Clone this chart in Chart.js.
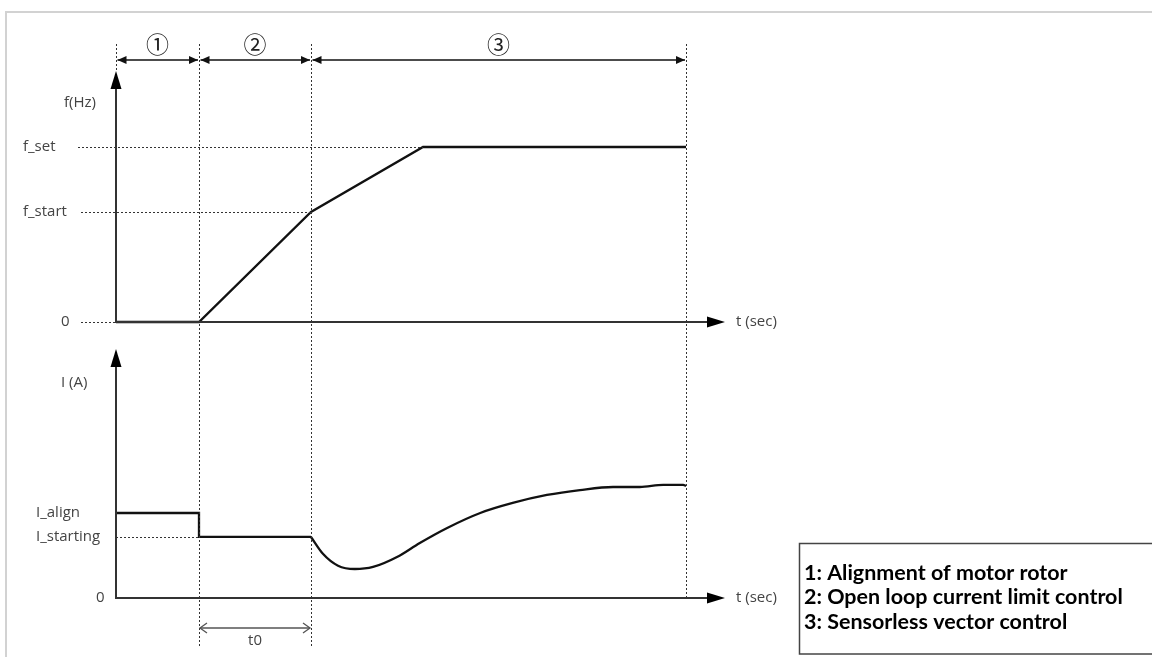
<!DOCTYPE html>
<html>
<head>
<meta charset="utf-8">
<script src="https://cdn.jsdelivr.net/npm/chart.js@4/dist/chart.umd.min.js"></script>
<style>
  html, body { margin: 0; padding: 0; background: #fff; }
  #wrap { width: 1152px; height: 657px; position: relative; }
</style>
</head>
<body>
<div id="wrap"><canvas id="c"></canvas></div>
<script>
// ---- data (diagram units: t relative, f normalised to f_set, I normalised to I_align) ----
const phaseBounds = [0, 1.456, 3.421, 10];
const phaseLabels = ['\u2460', '\u2461', '\u2462'];
const fSet = 1.0;
const fStart = 0.629;
const freqT = [0, 1.456, 3.421, 5.386, 10];
const freqV = [0, 0, fStart, fSet, fSet];
const iAlign = 1.0;
const iStarting = 0.718;
const currStepT = [0, 1.456, 1.456, 3.421];
const currStepV = [iAlign, iAlign, iStarting, iStarting];
const currCurveT = [3.421, 3.63, 3.895, 4.19, 4.51, 4.93, 5.33, 5.81, 6.39, 6.96, 7.56, 8.14, 8.72, 9.19, 9.6, 9.95, 10];
const currCurveV = [0.718, 0.52, 0.38, 0.341, 0.365, 0.482, 0.647, 0.824, 1.0, 1.118, 1.212, 1.27, 1.306, 1.306, 1.33, 1.33, 1.318];
const fTickLabels = ['f_set', 'f_start', '0'];
const iTickLabels = ['I_align', 'I_starting', '0'];
const axisTitles = ['f(Hz)', 'I (A)', 't (sec)'];
const t0Label = 't0';
const legendLines = ['1: Alignment of motor rotor', '2: Open loop current limit control', '3: Sensorless vector control'];

const pts = (xs, ys) => xs.map((x, i) => ({ x: x, y: ys[i] }));

const diagramPlugin = {
  id: 'diagram',
  afterDatasetsDraw(chart) {
    const ctx = chart.ctx;
    const X = v => chart.scales.x.getPixelForValue(v);
    const YF = v => chart.scales.yF.getPixelForValue(v);
    const YI = v => chart.scales.yI.getPixelForValue(v);
    const x0 = X(0), xEnd = X(phaseBounds[3]);
    const yF0 = YF(0), yI0 = YI(0);
    ctx.save();

    // outer frame
    ctx.strokeStyle = '#d2d2d2'; ctx.lineWidth = 2;
    ctx.beginPath(); ctx.moveTo(6, 657); ctx.lineTo(6, 12); ctx.lineTo(1152, 12); ctx.stroke();

    // dotted guides
    ctx.strokeStyle = '#333'; ctx.lineWidth = 1; ctx.setLineDash([2, 2]);
    const vline = (x, y1, y2) => { ctx.beginPath(); ctx.moveTo(Math.round(x) + 0.5, y1); ctx.lineTo(Math.round(x) + 0.5, y2); ctx.stroke(); };
    const hline = (y, x1, x2) => { ctx.beginPath(); ctx.moveTo(x1, Math.round(y) + 0.5); ctx.lineTo(x2, Math.round(y) + 0.5); ctx.stroke(); };
    vline(x0, 44, 70);
    vline(X(phaseBounds[1]), 44, 648);
    vline(X(phaseBounds[2]), 44, 648);
    vline(xEnd, 44, yI0);
    hline(YF(fSet), 78, X(freqT[3]));
    hline(YF(fStart), 81, X(phaseBounds[2]));
    hline(yF0, 81, x0);
    hline(YI(iStarting), x0, X(phaseBounds[1]));
    ctx.setLineDash([]);

    // axes
    ctx.strokeStyle = '#333'; ctx.fillStyle = '#000'; ctx.lineWidth = 2;
    const upArrow = (x, yBase, yTip) => {
      ctx.beginPath(); ctx.moveTo(x, yBase); ctx.lineTo(x, yTip + 14); ctx.stroke();
      ctx.beginPath(); ctx.moveTo(x, yTip); ctx.lineTo(x - 5.5, yTip + 18); ctx.lineTo(x + 5.5, yTip + 18); ctx.closePath(); ctx.fill();
    };
    const rightArrow = (y, xBase, xTip) => {
      ctx.beginPath(); ctx.moveTo(xBase, y); ctx.lineTo(xTip - 14, y); ctx.stroke();
      ctx.beginPath(); ctx.moveTo(xTip, y); ctx.lineTo(xTip - 18, y - 5.5); ctx.lineTo(xTip - 18, y + 5.5); ctx.closePath(); ctx.fill();
    };
    upArrow(x0, yF0 + 1, 71);
    upArrow(x0, yI0 + 1, 349);
    rightArrow(yF0, x0 - 1, 725);
    rightArrow(yI0, x0 - 1, 725);

    // phase dimension arrows
    ctx.strokeStyle = '#111'; ctx.fillStyle = '#111'; ctx.lineWidth = 1.5;
    const yP = 60;
    const head = (x, dir) => {
      ctx.beginPath(); ctx.moveTo(x, yP); ctx.lineTo(x - dir * 9, yP - 4); ctx.lineTo(x - dir * 9, yP + 4); ctx.closePath(); ctx.fill();
    };
    for (let i = 0; i < 3; i++) {
      const a = X(phaseBounds[i]) + 1.5, b = X(phaseBounds[i + 1]) - 1;
      ctx.beginPath(); ctx.moveTo(a, yP); ctx.lineTo(b, yP); ctx.stroke();
      head(a, -1); head(b, 1);
    }
    ctx.fillStyle = '#222'; ctx.font = '23px "Noto Sans CJK JP"'; ctx.textAlign = 'center'; ctx.textBaseline = 'middle';
    for (let i = 0; i < 3; i++) {
      ctx.fillText(phaseLabels[i], (X(phaseBounds[i]) + X(phaseBounds[i + 1])) / 2, 44);
    }

    // t0 dimension
    const ta = X(phaseBounds[1]) + 1, tb = X(phaseBounds[2]) - 1, yt = 628;
    ctx.strokeStyle = '#555'; ctx.lineWidth = 1.3;
    ctx.beginPath(); ctx.moveTo(ta, yt); ctx.lineTo(tb, yt); ctx.stroke();
    ctx.beginPath(); ctx.moveTo(ta + 7, yt - 5); ctx.lineTo(ta, yt); ctx.lineTo(ta + 7, yt + 5); ctx.stroke();
    ctx.beginPath(); ctx.moveTo(tb - 7, yt - 5); ctx.lineTo(tb, yt); ctx.lineTo(tb - 7, yt + 5); ctx.stroke();

    // labels
    ctx.fillStyle = '#444'; ctx.font = '15px "Open Sans"'; ctx.textBaseline = 'middle';
    ctx.textAlign = 'left';
    ctx.fillText(axisTitles[0], 64, 103);
    ctx.fillText(fTickLabels[0], 23, YF(fSet));
    ctx.fillText(fTickLabels[1], 23, YF(fStart));
    ctx.fillText(fTickLabels[2], 61, yF0);
    ctx.fillText(axisTitles[1], 61, 383);
    ctx.fillText(iTickLabels[0], 36, YI(iAlign));
    ctx.fillText(iTickLabels[1], 36, YI(iStarting));
    ctx.fillText(iTickLabels[2], 96, yI0);
    ctx.fillText(axisTitles[2], 736, yF0);
    ctx.fillText(axisTitles[2], 736, yI0);
    ctx.textAlign = 'center';
    ctx.fillText(t0Label, (ta + tb) / 2, 641);

    // legend box
    ctx.strokeStyle = '#444'; ctx.lineWidth = 1.5;
    ctx.strokeRect(799.5, 543.5, 400, 110.5);
    ctx.fillStyle = '#000'; ctx.textAlign = 'left'; ctx.textBaseline = 'middle';
    let fs = 18;
    ctx.font = 'bold ' + fs + 'px Lato';
    const w = ctx.measureText(legendLines[1]).width;
    fs = fs * 319 / w;
    ctx.font = 'bold ' + fs.toFixed(2) + 'px Lato';
    legendLines.forEach((s, i) => ctx.fillText(s, 804, 573 + i * 24.5));

    ctx.restore();
  }
};

new Chart(document.getElementById('c'), {
  type: 'line',
  data: {
    datasets: [
      { label: 'f', data: pts(freqT, freqV), yAxisID: 'yF', borderColor: '#111', borderWidth: 2.3, pointRadius: 0, tension: 0 },
      { label: 'I step', data: pts(currStepT, currStepV), yAxisID: 'yI', borderColor: '#111', borderWidth: 2.3, pointRadius: 0, tension: 0 },
      { label: 'I', data: pts(currCurveT, currCurveV), yAxisID: 'yI', borderColor: '#111', borderWidth: 2.3, pointRadius: 0, cubicInterpolationMode: 'monotone' }
    ]
  },
  options: {
    responsive: true,
    maintainAspectRatio: false,
    animation: false,
    devicePixelRatio: 1,
    layout: { padding: 0 },
    plugins: { legend: { display: false }, tooltip: { enabled: false } },
    scales: {
      x: { type: 'linear', display: false, min: -2.0351, max: 18.1754 },
      yF: { type: 'linear', display: false, min: -1.9143, max: 1.84 },
      yI: { type: 'linear', display: false, min: -0.6941, max: 7.0353 }
    }
  },
  plugins: [diagramPlugin]
});
</script>
</body>
</html>
